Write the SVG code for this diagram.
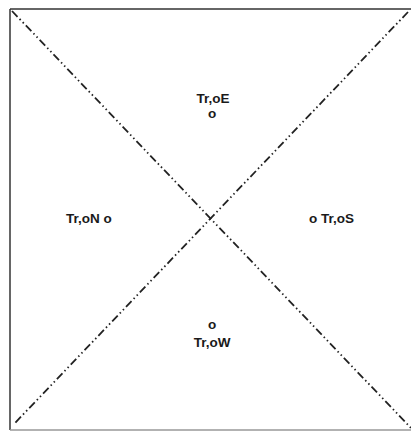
<svg xmlns="http://www.w3.org/2000/svg" width="411" height="432" viewBox="0 0 411 432">
<style>
.lbl{font-family:"Liberation Sans",Arial,sans-serif;font-weight:bold;font-size:13.5px;fill:#1a1a1a}
.diag{stroke:#222;stroke-width:1.8;fill:none;stroke-dasharray:8 3 1.5 3 1.5 3}
.frame{stroke:#333;stroke-width:1.5;fill:none}
</style>
<rect width="411" height="432" fill="#fff"/>
<g id="frame">
<line class="frame" x1="10" y1="9" x2="411" y2="9"/>
<line class="frame" x1="10" y1="9" x2="10" y2="430"/>
<line x1="10" y1="430" x2="411" y2="430" stroke="#999" stroke-width="1.5"/>
</g>
<g id="connectors">
<line class="diag" x1="12" y1="11" x2="411" y2="428"/>
<line class="diag" x1="408" y1="12" x2="14" y2="424"/>
</g>
<g id="node-E">
<text class="lbl" x="213" y="103" text-anchor="middle">Tr,oE</text>
<text class="lbl" x="212" y="118" text-anchor="middle">o</text>
</g>
<g id="node-N">
<text class="lbl" x="66" y="223">Tr,oN o</text>
</g>
<g id="node-S">
<text class="lbl" x="309" y="223">o Tr,oS</text>
</g>
<g id="node-W">
<text class="lbl" x="212" y="329" text-anchor="middle">o</text>
<text class="lbl" x="212" y="347" text-anchor="middle">Tr,oW</text>
</g>
</svg>
